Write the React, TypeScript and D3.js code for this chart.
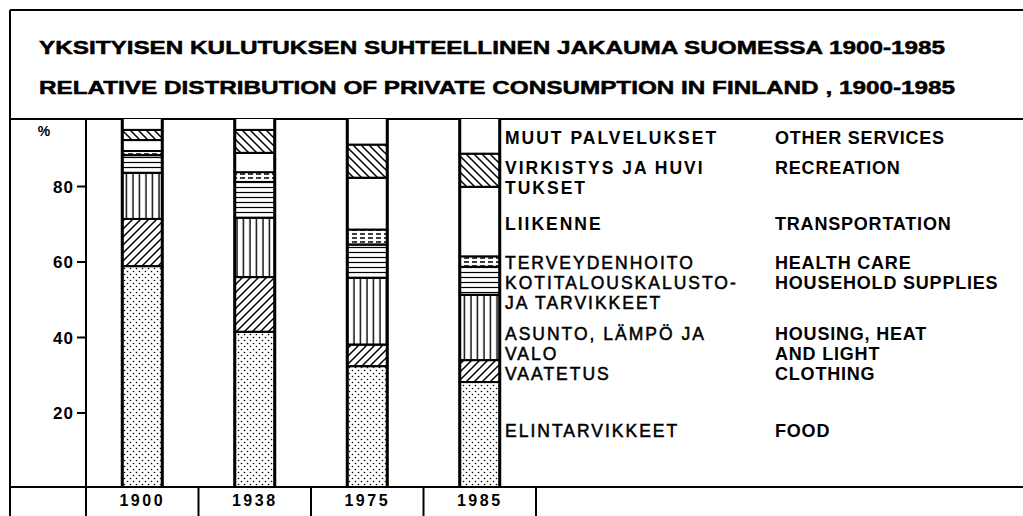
import React from 'react';
import * as d3 from 'd3';

// years (columns) and shares in percent, bottom to top
const years = ['1900', '1938', '1975', '1985'];
const food = [58.9, 41.5, 32.4, 28.2];
const clothing = [12.5, 14.5, 5.7, 5.8];
const housing = [12.2, 15.7, 17.7, 17.3];
const household = [4.7, 9.5, 8.8, 7.4];
const health = [1.1, 2.6, 4.0, 2.8];
const transport = [2.9, 5.1, 13.7, 18.4];
const recreation = [2.7, 6.1, 8.8, 8.8];
const other = [5.0, 5.0, 8.9, 11.3];

const keys = ['food', 'clothing', 'housing', 'household', 'health', 'transport', 'recreation', 'other'];
const series: Record<string, number[]> = { food, clothing, housing, household, health, transport, recreation, other };

const titleFi = 'YKSITYISEN KULUTUKSEN SUHTEELLINEN JAKAUMA SUOMESSA 1900-1985';
const titleEn = 'RELATIVE DISTRIBUTION OF PRIVATE CONSUMPTION IN FINLAND , 1900-1985';

// legend, top to bottom
const legendFi = [
  ['MUUT PALVELUKSET'],
  ['VIRKISTYS JA HUVI', 'TUKSET'],
  ['LIIKENNE'],
  ['TERVEYDENHOITO'],
  ['KOTITALOUSKALUSTO-', 'JA TARVIKKEET'],
  ['ASUNTO, LÄMPÖ JA', 'VALO'],
  ['VAATETUS'],
  ['ELINTARVIKKEET'],
];
const legendEn = [
  ['OTHER SERVICES'],
  ['RECREATION'],
  ['TRANSPORTATION'],
  ['HEALTH CARE'],
  ['HOUSEHOLD SUPPLIES'],
  ['HOUSING, HEAT', 'AND LIGHT'],
  ['CLOTHING'],
  ['FOOD'],
];
const yTicks = [20, 40, 60, 80];

const W = 1023;
const H = 516;
const legendY = [137, 167, 223, 262, 282, 333, 373, 430];
const boldFi = [true, true, true, false, false, false, false, false];

const fills: Record<string, string> = {
  food: 'url(#dots)',
  clothing: 'url(#diagUp)',
  housing: 'url(#vert)',
  household: 'url(#horiz)',
  health: 'url(#dash)',
  transport: '#fff',
  recreation: 'url(#diagDown)',
  other: '#fff',
};

export default function App() {
  const rows = years.map((yr, i) => {
    const r: any = { year: yr };
    keys.forEach(k => { r[k] = series[k][i]; });
    return r;
  });
  const stacked = d3.stack<any>().keys(keys)(rows);

  const top = 119;
  const base = 487;
  const x = d3.scaleBand().domain(years).range([86, 536]).padding(0);
  const y = d3.scaleLinear().domain([0, 100]).range([488.5, 111]);
  const bw = 40;
  const bx = (yr: string) => (x(yr) as number) + x.bandwidth() / 2 - bw / 2;

  const font = '"Liberation Sans", Arial, Helvetica, sans-serif';

  return (
    <svg width={W} height={H} style={{ position: 'absolute', left: 0, top: 0, background: '#fff' }} fontFamily={font}>
      <defs>
        <pattern id="dots" patternUnits="userSpaceOnUse" width="6" height="6">
          <circle cx="1.5" cy="1.5" r="0.8" fill="#000" />
          <circle cx="4.5" cy="4.5" r="0.8" fill="#000" />
        </pattern>
        <pattern id="diagUp" patternUnits="userSpaceOnUse" width="8" height="8">
          <path d="M-2,2 l4,-4 M0,8 l8,-8 M6,10 l4,-4" stroke="#000" strokeWidth="1.5" />
        </pattern>
        <pattern id="diagDown" patternUnits="userSpaceOnUse" width="8" height="8">
          <path d="M-2,6 l4,4 M0,0 l8,8 M6,-2 l4,4" stroke="#000" strokeWidth="1.5" />
        </pattern>
        <pattern id="vert" patternUnits="userSpaceOnUse" width="6.5" height="10">
          <line x1="3" y1="0" x2="3" y2="10" stroke="#000" strokeWidth="1.4" />
        </pattern>
        <pattern id="horiz" patternUnits="userSpaceOnUse" width="10" height="5">
          <line x1="0" y1="2.5" x2="10" y2="2.5" stroke="#000" strokeWidth="1.2" />
        </pattern>
        <pattern id="dash" patternUnits="userSpaceOnUse" width="8" height="4">
          <line x1="0" y1="2" x2="5" y2="2" stroke="#000" strokeWidth="1.5" />
        </pattern>
        <clipPath id="plot">
          <rect x={86} y={top} width={W - 86} height={base - top} />
        </clipPath>
      </defs>

      {/* frame */}
      <g stroke="#000" fill="none">
        <line x1={10} y1={10} x2={W} y2={10} strokeWidth={2} />
        <line x1={10} y1={10} x2={10} y2={H} strokeWidth={2} />
        <line x1={10} y1={top} x2={W} y2={top} strokeWidth={2} />
        <line x1={10} y1={base} x2={W} y2={base} strokeWidth={2} />
        <line x1={86} y1={top} x2={86} y2={H} strokeWidth={2} />
        {years.map(yr => (
          <line key={yr} x1={(x(yr) as number) + x.bandwidth()} y1={base} x2={(x(yr) as number) + x.bandwidth()} y2={H} strokeWidth={2} />
        ))}
      </g>

      {/* titles */}
      <text x={39} y={54} fontSize={19} fontWeight="bold" stroke="#000" strokeWidth={0.5} textLength={906} lengthAdjust="spacingAndGlyphs">{titleFi}</text>
      <text x={39} y={94} fontSize={19} fontWeight="bold" stroke="#000" strokeWidth={0.5} textLength={916} lengthAdjust="spacingAndGlyphs">{titleEn}</text>

      {/* y axis */}
      <text x={44} y={136} fontSize={14} fontWeight="bold" textAnchor="middle">%</text>
      {yTicks.map(t => (
        <g key={t}>
          <line x1={77} x2={86} y1={y(t)} y2={y(t)} stroke="#000" strokeWidth={2} />
          <text x={74} y={y(t) + 6} fontSize={17} fontWeight="bold" textAnchor="end" letterSpacing={1}>{t}</text>
        </g>
      ))}

      {/* bars */}
      <g clipPath="url(#plot)">
        {stacked.map(s => (
          <g key={s.key}>
            {s.map((d, i) => (
              <rect key={i} x={bx(years[i])} y={y(d[1])} width={bw} height={y(d[0]) - y(d[1])}
                fill={fills[s.key]} stroke="#000" strokeWidth={2} />
            ))}
          </g>
        ))}
        {years.map(yr => (
          <rect key={yr} x={bx(yr)} y={y(100)} width={bw} height={y(0) - y(100)} fill="none" stroke="#000" strokeWidth={3} />
        ))}
      </g>

      {/* year labels */}
      {years.map(yr => (
        <text key={yr} x={(x(yr) as number) + x.bandwidth() / 2} y={506} fontSize={16} fontWeight="bold" textAnchor="middle" letterSpacing={2.5}>{yr}</text>
      ))}

      {/* legend */}
      {legendFi.map((lines, i) => lines.map((l, j) => (
        <text key={'fi' + i + j} x={505} y={legendY[i] + j * 20 + 6.5} fontSize={17.5}
          fontWeight={boldFi[i] ? 'bold' : 'normal'} stroke={boldFi[i] ? 'none' : '#000'} strokeWidth={0.5} letterSpacing={2}>{l}</text>
      )))}
      {legendEn.map((lines, i) => lines.map((l, j) => (
        <text key={'en' + i + j} x={775} y={legendY[i] + j * 20 + 6.5} fontSize={18} fontWeight="bold" letterSpacing={0.8}>{l}</text>
      )))}
    </svg>
  );
}
